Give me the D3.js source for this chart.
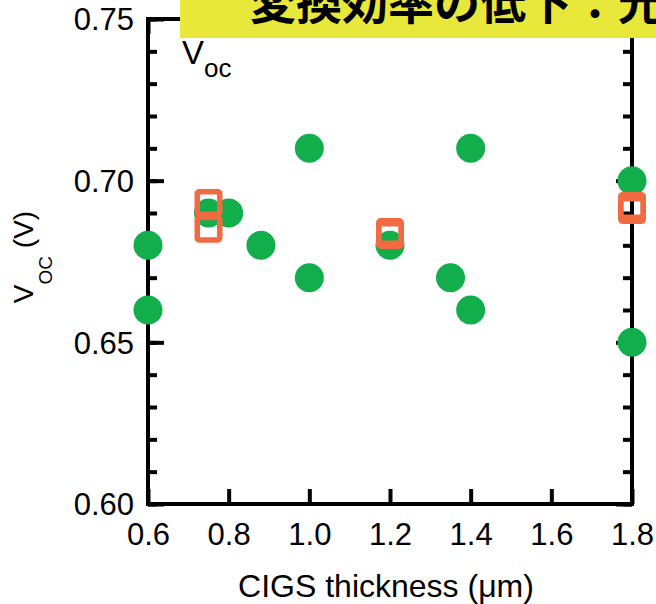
<!DOCTYPE html>
<html>
<head>
<meta charset="utf-8">
<script src="https://cdn.jsdelivr.net/npm/d3@7"></script>
<style>
  body { margin: 0; background: #fff; }
  svg { display: block; font-family: 'Liberation Sans', Arial, sans-serif; }
</style>
</head>
<body>
<svg id="chart" width="656" height="604"></svg>
<script>
// CIGS thickness (um) vs Voc (V)
const greenThickness = [0.6, 0.6, 0.75, 0.8, 0.88, 1.0, 1.0, 1.2, 1.35, 1.4, 1.4, 1.8, 1.8]
const greenVoc = [0.68, 0.66, 0.69, 0.69, 0.68, 0.71, 0.67, 0.68, 0.67, 0.71, 0.66, 0.70, 0.65]
const orangeThickness = [0.75, 0.75, 1.2, 1.2, 1.8, 1.8]
const orangeVoc = [0.6931, 0.6851, 0.6841, 0.6832, 0.6922, 0.6909]

const xTicks = [0.6, 0.8, 1.0, 1.2, 1.4, 1.6, 1.8]
const yTicks = [0.60, 0.65, 0.70, 0.75]
const yMinorTicks = d3.range(60, 76).map(v => v / 100)

const bannerText = '変換効率の低下：光吸収量の減少'

const margin = {top: 19, right: 24, bottom: 100, left: 148}
const width = 656
const height = 604

let svg = d3.select('#chart')

let x = d3.scaleLinear().domain([0.6, 1.8]).range([margin.left, width - margin.right])
let y = d3.scaleLinear().domain([0.60, 0.75]).range([height - margin.bottom, margin.top])

const axisFont = 31

// left axis: major + minor ticks pointing inward
svg.append('g')
    .attr('transform', 'translate(' + margin.left + ',0)')
    .call(d3.axisLeft(y).tickValues(yMinorTicks).tickSize(-9).tickSizeOuter(0).tickFormat(''))
svg.append('g')
    .attr('class', 'yLeft')
    .attr('transform', 'translate(' + margin.left + ',0)')
    .call(d3.axisLeft(y).tickValues(yTicks).tickSize(-16).tickSizeOuter(0)
      .tickPadding(14).tickFormat(d3.format('.2f')))

// right axis mirrors the left one
svg.append('g')
    .attr('transform', 'translate(' + (width - margin.right) + ',0)')
    .call(d3.axisRight(y).tickValues(yMinorTicks).tickSize(-9).tickSizeOuter(0).tickFormat(''))
svg.append('g')
    .attr('transform', 'translate(' + (width - margin.right) + ',0)')
    .call(d3.axisRight(y).tickValues(yTicks).tickSize(-16).tickSizeOuter(0).tickFormat(''))

// bottom axis
svg.append('g')
    .attr('class', 'xBottom')
    .attr('transform', 'translate(0,' + (height - margin.bottom) + ')')
    .call(d3.axisBottom(x).tickValues(xTicks).tickSize(-15).tickSizeOuter(0)
      .tickPadding(19).tickFormat(d3.format('.1f')))

// top axis (mostly under the banner)
svg.append('g')
    .attr('transform', 'translate(0,' + margin.top + ')')
    .call(d3.axisTop(x).tickValues(xTicks).tickSize(-15).tickSizeOuter(0).tickFormat(''))

svg.selectAll('.domain').remove()
svg.selectAll('.tick line').attr('stroke', '#000').attr('stroke-width', 4)
svg.selectAll('.tick text')
    .attr('fill', '#000')
    .style('font-size', axisFont + 'px')
    .style('font-family', "'Liberation Sans', Arial, sans-serif")
svg.selectAll('.yLeft .tick text').attr('dy', '0.35em')

// frame
svg.append('rect')
    .attr('x', x(0.6))
    .attr('y', y(0.75))
    .attr('width', x(1.8) - x(0.6))
    .attr('height', y(0.60) - y(0.75))
    .attr('fill', 'none')
    .attr('stroke', '#000')
    .attr('stroke-width', 4)

// green points
svg.append('g').selectAll('circle')
    .data(d3.zip(greenThickness, greenVoc))
  .enter().append('circle')
    .attr('cx', d => x(d[0]))
    .attr('cy', d => y(d[1]))
    .attr('r', 14.5)
    .attr('fill', '#12ae4b')

// orange hollow squares
const sq = 22.5
svg.append('g').selectAll('rect')
    .data(d3.zip(orangeThickness, orangeVoc))
  .enter().append('rect')
    .attr('x', d => x(d[0]) - sq / 2)
    .attr('y', d => y(d[1]) - sq / 2)
    .attr('width', sq)
    .attr('height', sq)
    .attr('rx', 2)
    .attr('fill', 'none')
    .attr('stroke', '#f26a41')
    .attr('stroke-width', 5.5)

// in-plot label
let voc = svg.append('text')
    .attr('x', 182)
    .attr('y', 64)
    .style('font-size', '33px')
voc.append('tspan').text('V')
voc.append('tspan').attr('dy', 13).style('font-size', '26px').text('oc')

// y axis title
let yTitle = svg.append('text')
    .attr('transform', 'rotate(-90)')
    .attr('x', -257)
    .attr('y', 33)
    .attr('text-anchor', 'middle')
    .style('font-size', '28px')
yTitle.append('tspan').text('V')
yTitle.append('tspan').attr('dy', 19).style('font-size', '19px').text('OC')
yTitle.append('tspan').attr('dy', -19).text(' (V)')

// x axis title
svg.append('text')
    .attr('x', 386)
    .attr('y', 597)
    .attr('text-anchor', 'middle')
    .style('font-size', '32px')
    .text('CIGS thickness (μm)')

// banner
svg.append('rect')
    .attr('x', 180)
    .attr('y', 0)
    .attr('width', width - 180)
    .attr('height', 38)
    .attr('fill', '#e8e83b')
svg.append('text')
    .attr('x', 250)
    .attr('y', 19)
    .style('font-family', "'Noto Sans CJK JP', sans-serif")
    .style('font-weight', 700)
    .style('font-size', '46px')
    .attr('fill', '#000')
    .text(bannerText)
</script>
</body>
</html>
